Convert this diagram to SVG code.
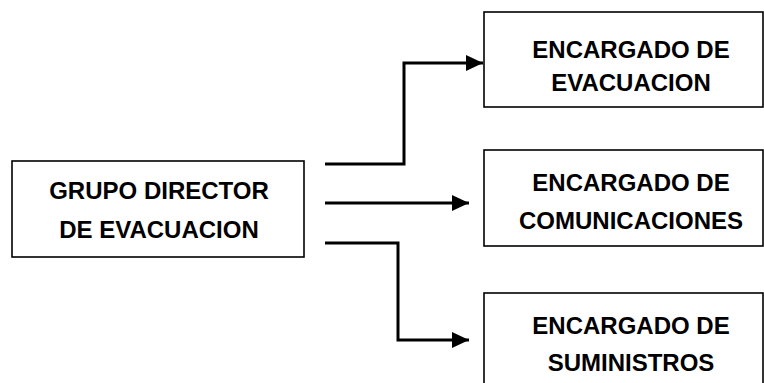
<svg xmlns="http://www.w3.org/2000/svg" width="764" height="383" viewBox="0 0 764 383">
<style>
.box{fill:#fff;stroke:#000;stroke-width:1.6}
.t{font-family:"Liberation Sans",Arial,sans-serif;font-weight:bold;font-size:24px;fill:#000;text-anchor:middle}
.c{fill:none;stroke:#000;stroke-width:3}
</style>
<defs>
<marker id="ah" markerUnits="userSpaceOnUse" markerWidth="17" markerHeight="16" refX="17" refY="8" orient="auto">
<path d="M0,0 L17,8 L0,16 Z" fill="#000"/>
</marker>
</defs>
<rect width="764" height="383" fill="#fff"/>
<g id="connectors">
<path class="c" d="M325,164 H404 V63 H483" marker-end="url(#ah)"/>
<path class="c" d="M325,203 H469" marker-end="url(#ah)"/>
<path class="c" d="M325,243 H398 V340 H469" marker-end="url(#ah)"/>
</g>
<g id="grupo">
<rect class="box" x="12" y="161" width="292" height="96"/>
<text class="t" x="159" y="199">GRUPO DIRECTOR</text>
<text class="t" x="159" y="238">DE EVACUACION</text>
</g>
<g id="evacuacion">
<rect class="box" x="484" y="12" width="279" height="95"/>
<text class="t" x="631" y="58">ENCARGADO DE</text>
<text class="t" x="631" y="91">EVACUACION</text>
</g>
<g id="comunicaciones">
<rect class="box" x="484" y="150" width="279" height="96"/>
<text class="t" x="631" y="191">ENCARGADO DE</text>
<text class="t" x="631" y="229">COMUNICACIONES</text>
</g>
<g id="suministros">
<rect class="box" x="484" y="293" width="279" height="100"/>
<text class="t" x="631" y="334">ENCARGADO DE</text>
<text class="t" x="631" y="371">SUMINISTROS</text>
</g>
</svg>
